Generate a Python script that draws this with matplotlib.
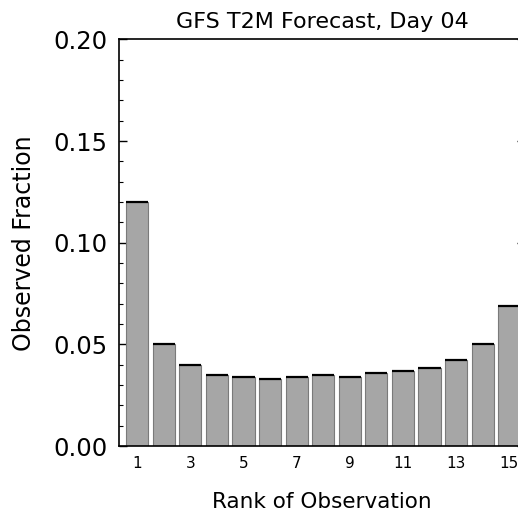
import matplotlib.pyplot as plt
from matplotlib.ticker import MultipleLocator

# datos
ranks = list(range(1, 16))
fracciones = [0.120, 0.050, 0.0397, 0.0350, 0.0338, 0.0332, 0.0338, 0.0351,
              0.0340, 0.0360, 0.0371, 0.0384, 0.0422, 0.0502, 0.0688]
xtick_labels = ["1", "3", "5", "7", "9", "11", "13", "15"]

plt.rcParams['font.family'] = ['DejaVu Sans']

fig = plt.figure(figsize=(5.18, 5.19), dpi=100)
# el eje se sale por la derecha de la imagen, como en la original
ax = fig.add_axes([119/518, 73/519, 406/518, 406.5/519])

ancho = 0.83
ax.bar(ranks, fracciones, width=ancho, color='#a6a6a6', edgecolor='#7a7a7a',
       linewidth=0.8, zorder=2)
# linea negra encima de cada barra
for r, f in zip(ranks, fracciones):
    ax.hlines(f, r - ancho/2, r + ancho/2, color='black', linewidth=1.6, zorder=3)

ax.set_xlim(0.315, 15.595)
ax.set_ylim(0, 0.20)

ax.set_yticks([0, 0.05, 0.10, 0.15, 0.20])
ax.set_yticklabels(["0.00", "0.05", "0.10", "0.15", "0.20"], fontsize=17.5)
ax.yaxis.set_minor_locator(MultipleLocator(0.01))
ax.tick_params(axis='y', which='major', direction='in', length=5.8, width=1,
               right=True, pad=8.5)
ax.tick_params(axis='y', which='minor', direction='in', length=2.9, width=0.8,
               right=True)

ax.set_xticks(ranks[::2])
ax.set_xticklabels(xtick_labels, fontsize=11)
ax.tick_params(axis='x', which='both', length=0, pad=7.5)

for s in ax.spines.values():
    s.set_linewidth(1.2)

ax.set_title("GFS T2M Forecast, Day 04", fontsize=16, pad=8.3)
ax.set_xlabel("Rank of Observation", fontsize=15.5, labelpad=15)
ax.set_ylabel("Observed Fraction", fontsize=17, labelpad=12)

fig.savefig("out.png", dpi=100)
